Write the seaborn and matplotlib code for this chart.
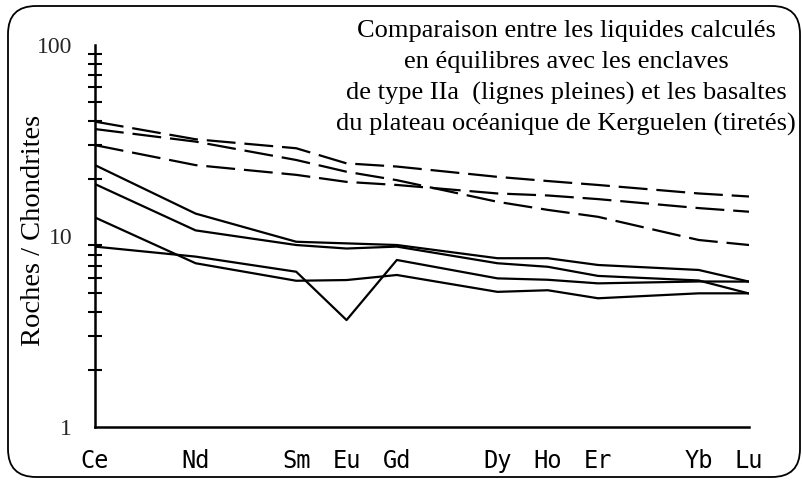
import matplotlib
matplotlib.use("Agg")
import matplotlib.pyplot as plt
import matplotlib.transforms as mtransforms
from matplotlib.patches import FancyBboxPatch
from matplotlib.ticker import FixedLocator, FixedFormatter, NullFormatter
import pandas as pd
import seaborn as sns

# Terres rares (numéro atomique en abscisse)
elements = ["Ce", "Nd", "Sm", "Eu", "Gd", "Dy", "Ho", "Er", "Yb", "Lu"]
numeros_atomiques = [58, 60, 62, 63, 64, 66, 67, 68, 70, 71]

# Liquides calculés en équilibre avec les enclaves de type IIa (lignes pleines)
liquide_1 = [23.5, 13.1, 9.33, 9.15, 8.97, 7.65, 7.65, 7.05, 6.64, 5.77]
liquide_2 = [18.7, 10.7, 8.97, 8.6, 8.8, 7.2, 6.9, 6.18, 5.85, 5.0]
liquide_3 = [8.8, 7.8, 6.5, 3.63, 7.49, 6.0, 5.9, 5.65, 5.78, 5.77]
liquide_4 = [12.5, 7.2, 5.83, 5.88, 6.25, 5.1, 5.2, 4.72, 5.01, 5.01]

# Basaltes du plateau océanique de Kerguelen (tiretés)
basalte_1 = [39.7, 32.1, 28.8, 24.0, 23.1, 20.4, 19.4, 18.5, 16.7, 16.1]
basalte_2 = [36.3, 31.2, 25.0, 21.7, 19.6, 15.1, 13.7, 12.6, 9.53, 8.97]
basalte_3 = [29.9, 23.5, 20.9, 19.2, 18.5, 16.7, 16.3, 15.6, 14.0, 13.4]

y_ticks = [1, 10, 100]
y_tick_labels = ["1", "10", "100"]
y_minor = [2, 3, 4, 5, 6, 7, 8, 9, 20, 30, 40, 50, 60, 70, 80, 90]

titre = [
    "Comparaison entre les liquides calculés",
    "en équilibres avec les enclaves",
    "de type IIa  (lignes pleines) et les basaltes",
    "du plateau océanique de Kerguelen (tiretés)",
]

series = {
    ("liquide 1", "plein"): liquide_1,
    ("liquide 2", "plein"): liquide_2,
    ("liquide 3", "plein"): liquide_3,
    ("liquide 4", "plein"): liquide_4,
    ("basalte 1", "tireté"): basalte_1,
    ("basalte 2", "tireté"): basalte_2,
    ("basalte 3", "tireté"): basalte_3,
}
rows = []
for (nom, trait), valeurs in series.items():
    for z, v in zip(numeros_atomiques, valeurs):
        rows.append({"Z": z, "valeur": v, "serie": nom, "trait": trait})
df = pd.DataFrame(rows)

sns.set_style("white")
plt.rcParams["font.family"] = ["Liberation Serif", "DejaVu Serif"]

W, H = 803, 483
fig = plt.figure(figsize=(W / 100, H / 100), dpi=100)
ax = fig.add_axes([95 / W, 1 - 427 / H, (749 - 95) / W, (427 - 45) / H])

sns.lineplot(
    data=df, x="Z", y="valeur", units="serie", estimator=None,
    style="trait", dashes={"plein": "", "tireté": (13, 4)},
    color="black", linewidth=1.6, legend=False, sort=False, ax=ax,
)

ax.set_yscale("log")
ax.set_xlim(58, 71)
ax.set_ylim(1, 100)
ax.set_xlabel("")
ax.set_ylabel("")

ax.xaxis.set_major_locator(FixedLocator(numeros_atomiques))
ax.xaxis.set_major_formatter(FixedFormatter(elements))
ax.yaxis.set_major_locator(FixedLocator(y_ticks))
ax.yaxis.set_major_formatter(FixedFormatter(y_tick_labels))
ax.yaxis.set_minor_locator(FixedLocator(y_minor))
ax.yaxis.set_minor_formatter(NullFormatter())

for s in ["top", "right"]:
    ax.spines[s].set_visible(False)
for s in ["left", "bottom"]:
    ax.spines[s].set_linewidth(1.8)
    ax.spines[s].set_color("black")

ax.tick_params(axis="x", which="major", direction="inout", length=13, width=1.5,
               color="black", pad=9, labelsize=17)
ax.tick_params(axis="y", which="major", direction="inout", length=13, width=1.8,
               color="black", pad=10, labelsize=17)
ax.tick_params(axis="y", which="minor", direction="inout", length=10, width=1.5,
               color="black", left=True)
for lab in ax.get_xticklabels():
    lab.set_fontfamily(["DejaVu Sans Mono", "DejaVu Sans"])
    lab.set_color("black")

fig.text(34 / W, 1 - 230 / H, "Roches / Chondrites", rotation=90,
         ha="center", va="center", fontsize=20.5, color="black")

for i, ligne in enumerate(titre):
    fig.text(566 / W, 1 - (31 + i * 31.3) / H, ligne, ha="center", va="center",
             fontsize=19, color="black")

cadre = FancyBboxPatch((8, 6), 792, 471, boxstyle="round,pad=0,rounding_size=28",
                       transform=mtransforms.IdentityTransform(),
                       facecolor="none", edgecolor="black", linewidth=1.3)
fig.add_artist(cadre)

fig.savefig("out.png", dpi=100)
